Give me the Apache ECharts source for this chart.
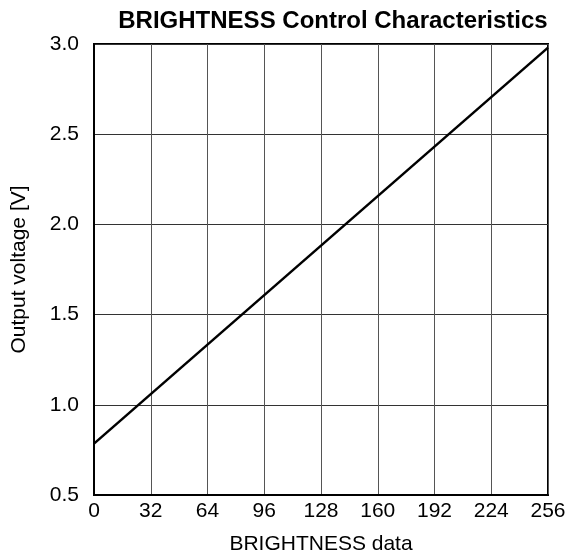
<!DOCTYPE html>
<html><head><meta charset="utf-8">
<script src="https://cdn.jsdelivr.net/npm/echarts@6/dist/echarts.min.js"></script>
<style>html,body{margin:0;padding:0;background:#fff}#c{width:576px;height:560px}</style>
</head><body><div id="c"></div>
<script>
const brightnessData = [0, 256];
const outputVoltage = [0.785, 2.98];
const xTicks = [0, 32, 64, 96, 128, 160, 192, 224, 256];
const yTicks = [0.5, 1.0, 1.5, 2.0, 2.5, 3.0];

const chart = echarts.init(document.getElementById('c'));
const FONT = '"Liberation Sans", Arial, sans-serif';
chart.setOption({
  animation: false,
  backgroundColor: '#fff',
  title: {
    text: 'BRIGHTNESS Control Characteristics',
    left: 328, top: 4, textAlign: 'center',
    textStyle: {fontFamily: FONT, fontSize: 24, fontWeight: 'bold', color: '#000'}
  },
  grid: {left: 94, right: 28, top: 44, bottom: 65, show: true, borderColor: '#000', borderWidth: 2},
  xAxis: {
    type: 'value', min: xTicks[0], max: xTicks[xTicks.length-1], interval: 32,
    name: 'BRIGHTNESS data', nameLocation: 'middle', nameGap: 39,
    nameTextStyle: {fontFamily: FONT, fontSize: 21, color: '#000'},
    axisLine: {show: true, lineStyle: {color: '#000', width: 2}},
    axisTick: {show: false},
    axisLabel: {fontFamily: FONT, fontSize: 21, color: '#000', margin: 6},
    splitLine: {show: true, lineStyle: {color: '#555', width: 1}}
  },
  yAxis: {
    type: 'value', min: yTicks[0], max: yTicks[yTicks.length-1], interval: 0.5,
    name: 'Output voltage [V]', nameLocation: 'middle', nameGap: 64,
    nameTextStyle: {fontFamily: FONT, fontSize: 21, color: '#000'},
    axisLine: {show: true, lineStyle: {color: '#000', width: 2}},
    axisTick: {show: false},
    axisLabel: {fontFamily: FONT, fontSize: 21, color: '#000', margin: 15, formatter: v => v.toFixed(1)},
    splitLine: {show: true, lineStyle: {color: '#333', width: 1}}
  },
  series: [{
    type: 'line',
    data: brightnessData.map((x, i) => [x, outputVoltage[i]]),
    symbol: 'none',
    lineStyle: {color: '#000', width: 2.5}
  }]
});
</script></body></html>
